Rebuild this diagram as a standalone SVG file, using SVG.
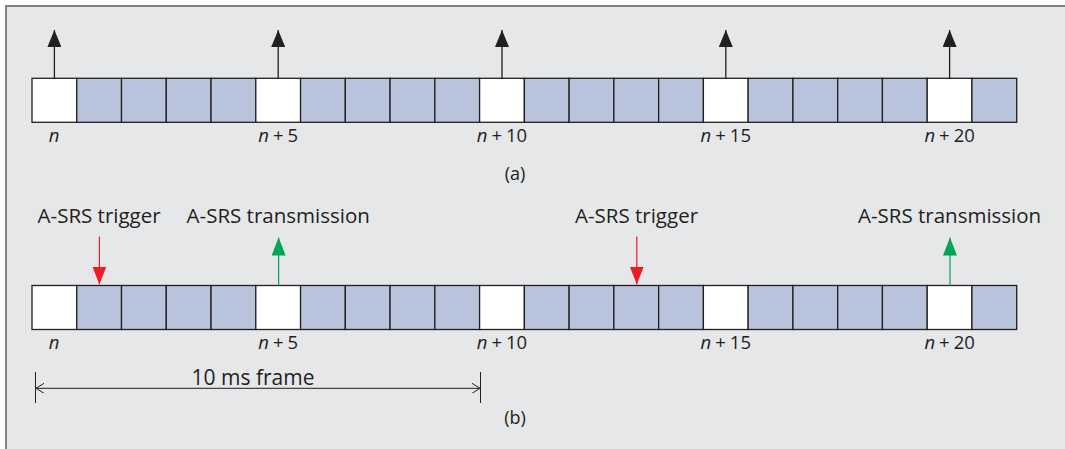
<svg xmlns="http://www.w3.org/2000/svg" width="1065" height="449" viewBox="0 0 1065 449">
  <style>
    .bg { fill: #e6e7e9; stroke: #808285; stroke-width: 2; }
    .sf { fill: #b8c4dc; stroke: #231f20; stroke-width: 1.3; }
    .sw { fill: #ffffff; stroke: #231f20; stroke-width: 1.3; }
    .lbl { font-family: "Open Sans", "Liberation Sans", sans-serif; font-size: 18px; fill: #231f20; text-anchor: middle; }
    .num { font-family: "Open Sans", "Liberation Sans", sans-serif; font-size: 18.5px; fill: #231f20; text-anchor: middle; }
    .cap { font-family: "Open Sans", "Liberation Sans", sans-serif; font-size: 20.5px; fill: #231f20; text-anchor: middle; }
    .it { font-style: italic; }
    .blk { stroke: #231f20; stroke-width: 1.3; fill: none; }
    .red { stroke: #ed1c24; stroke-width: 1.2; fill: none; }
    .grn { stroke: #00a651; stroke-width: 1.2; fill: none; }
    .dim { stroke: #231f20; stroke-width: 1; fill: none; }
  </style>
  <defs>
    <!-- solid heads drawn along +x so orient="auto" follows the line -->
    <marker id="hBlk" viewBox="0 0 17 14" refX="17" refY="7" markerWidth="17" markerHeight="14" markerUnits="userSpaceOnUse" orient="auto">
      <path d="M0,0 L17,7 L0,14 Z" fill="#231f20"/>
    </marker>
    <marker id="hRed" viewBox="0 0 18 14" refX="18" refY="7" markerWidth="18" markerHeight="14" markerUnits="userSpaceOnUse" orient="auto">
      <path d="M0,0 L18,7 L0,14 Z" fill="#ed1c24"/>
    </marker>
    <marker id="hGrn" viewBox="0 0 18 14" refX="18" refY="7" markerWidth="18" markerHeight="14" markerUnits="userSpaceOnUse" orient="auto">
      <path d="M0,0 L18,7 L0,14 Z" fill="#00a651"/>
    </marker>
    <marker id="hOpen" viewBox="0 0 8 10" refX="8" refY="5" markerWidth="8" markerHeight="10" markerUnits="userSpaceOnUse" orient="auto-start-reverse">
      <path d="M0,0 L8,5 L0,10" fill="none" stroke="#231f20" stroke-width="1"/>
    </marker>
  </defs>

  <!-- panel background -->
  <rect class="bg" x="6" y="6" width="1070" height="450"/>

  <!-- (a) periodic subframes -->
  <g id="row-a">
    <rect class="sw" x="32" y="78.3" width="44.76" height="44"/>
    <rect class="sf" x="76.76" y="78.3" width="44.76" height="44"/>
    <rect class="sf" x="121.52" y="78.3" width="44.76" height="44"/>
    <rect class="sf" x="166.28" y="78.3" width="44.76" height="44"/>
    <rect class="sf" x="211.04" y="78.3" width="44.76" height="44"/>
    <rect class="sw" x="255.8" y="78.3" width="44.76" height="44"/>
    <rect class="sf" x="300.56" y="78.3" width="44.76" height="44"/>
    <rect class="sf" x="345.32" y="78.3" width="44.76" height="44"/>
    <rect class="sf" x="390.08" y="78.3" width="44.76" height="44"/>
    <rect class="sf" x="434.84" y="78.3" width="44.76" height="44"/>
    <rect class="sw" x="479.6" y="78.3" width="44.76" height="44"/>
    <rect class="sf" x="524.36" y="78.3" width="44.76" height="44"/>
    <rect class="sf" x="569.12" y="78.3" width="44.76" height="44"/>
    <rect class="sf" x="613.88" y="78.3" width="44.76" height="44"/>
    <rect class="sf" x="658.64" y="78.3" width="44.76" height="44"/>
    <rect class="sw" x="703.4" y="78.3" width="44.76" height="44"/>
    <rect class="sf" x="748.16" y="78.3" width="44.76" height="44"/>
    <rect class="sf" x="792.92" y="78.3" width="44.76" height="44"/>
    <rect class="sf" x="837.68" y="78.3" width="44.76" height="44"/>
    <rect class="sf" x="882.44" y="78.3" width="44.76" height="44"/>
    <rect class="sw" x="927.2" y="78.3" width="44.76" height="44"/>
    <rect class="sf" x="971.96" y="78.3" width="44.76" height="44"/>
  </g>
  <g id="labels-a">
    <text class="num" x="54" y="142"><tspan class="it">n</tspan></text>
    <text class="num" x="278.2" y="142"><tspan class="it">n</tspan><tspan dx="4">+</tspan><tspan dx="4">5</tspan></text>
    <text class="num" x="502" y="142"><tspan class="it">n</tspan><tspan dx="4">+</tspan><tspan dx="4">10</tspan></text>
    <text class="num" x="725.8" y="142"><tspan class="it">n</tspan><tspan dx="4">+</tspan><tspan dx="4">15</tspan></text>
    <text class="num" x="949.6" y="142"><tspan class="it">n</tspan><tspan dx="4">+</tspan><tspan dx="4">20</tspan></text>
    <text class="lbl" x="515" y="180">(a)</text>
  </g>

  <!-- (b) aperiodic trigger and transmission -->
  <g id="row-b">
    <rect class="sw" x="32" y="285.5" width="44.76" height="44"/>
    <rect class="sf" x="76.76" y="285.5" width="44.76" height="44"/>
    <rect class="sf" x="121.52" y="285.5" width="44.76" height="44"/>
    <rect class="sf" x="166.28" y="285.5" width="44.76" height="44"/>
    <rect class="sf" x="211.04" y="285.5" width="44.76" height="44"/>
    <rect class="sw" x="255.8" y="285.5" width="44.76" height="44"/>
    <rect class="sf" x="300.56" y="285.5" width="44.76" height="44"/>
    <rect class="sf" x="345.32" y="285.5" width="44.76" height="44"/>
    <rect class="sf" x="390.08" y="285.5" width="44.76" height="44"/>
    <rect class="sf" x="434.84" y="285.5" width="44.76" height="44"/>
    <rect class="sw" x="479.6" y="285.5" width="44.76" height="44"/>
    <rect class="sf" x="524.36" y="285.5" width="44.76" height="44"/>
    <rect class="sf" x="569.12" y="285.5" width="44.76" height="44"/>
    <rect class="sf" x="613.88" y="285.5" width="44.76" height="44"/>
    <rect class="sf" x="658.64" y="285.5" width="44.76" height="44"/>
    <rect class="sw" x="703.4" y="285.5" width="44.76" height="44"/>
    <rect class="sf" x="748.16" y="285.5" width="44.76" height="44"/>
    <rect class="sf" x="792.92" y="285.5" width="44.76" height="44"/>
    <rect class="sf" x="837.68" y="285.5" width="44.76" height="44"/>
    <rect class="sf" x="882.44" y="285.5" width="44.76" height="44"/>
    <rect class="sw" x="927.2" y="285.5" width="44.76" height="44"/>
    <rect class="sf" x="971.96" y="285.5" width="44.76" height="44"/>
  </g>
  <g id="labels-b">
    <text class="num" x="54" y="348.5"><tspan class="it">n</tspan></text>
    <text class="num" x="278.2" y="348.5"><tspan class="it">n</tspan><tspan dx="4">+</tspan><tspan dx="4">5</tspan></text>
    <text class="num" x="502" y="348.5"><tspan class="it">n</tspan><tspan dx="4">+</tspan><tspan dx="4">10</tspan></text>
    <text class="num" x="725.8" y="348.5"><tspan class="it">n</tspan><tspan dx="4">+</tspan><tspan dx="4">15</tspan></text>
    <text class="num" x="949.6" y="348.5"><tspan class="it">n</tspan><tspan dx="4">+</tspan><tspan dx="4">20</tspan></text>
    <text class="cap" x="99.1" y="223">A-SRS trigger</text>
    <text class="cap" x="278.2" y="223">A-SRS transmission</text>
    <text class="cap" x="636.5" y="223">A-SRS trigger</text>
    <text class="cap" x="949.6" y="223">A-SRS transmission</text>
    <text class="cap" x="253" y="385" style="font-size:21px">10 ms frame</text>
    <text class="lbl" x="515" y="424">(b)</text>
  </g>

  <!-- arrows and dimension line -->
  <g id="connectors">
    <line class="blk" x1="54.4" y1="78.3" x2="54.4" y2="30" marker-end="url(#hBlk)"/>
    <line class="blk" x1="278.2" y1="78.3" x2="278.2" y2="30" marker-end="url(#hBlk)"/>
    <line class="blk" x1="502" y1="78.3" x2="502" y2="30" marker-end="url(#hBlk)"/>
    <line class="blk" x1="725.8" y1="78.3" x2="725.8" y2="30" marker-end="url(#hBlk)"/>
    <line class="blk" x1="949.6" y1="78.3" x2="949.6" y2="30" marker-end="url(#hBlk)"/>

    <line class="red" x1="99.4" y1="236.5" x2="99.4" y2="284.5" marker-end="url(#hRed)"/>
    <line class="red" x1="636.8" y1="236.5" x2="636.8" y2="284.5" marker-end="url(#hRed)"/>
    <line class="grn" x1="278.6" y1="285.5" x2="278.6" y2="237.5" marker-end="url(#hGrn)"/>
    <line class="grn" x1="950" y1="285.5" x2="950" y2="237.5" marker-end="url(#hGrn)"/>

    <line class="dim" x1="35.5" y1="372" x2="35.5" y2="403"/>
    <line class="dim" x1="480.5" y1="372" x2="480.5" y2="403"/>
    <line class="dim" x1="36" y1="388.3" x2="480" y2="388.3" marker-start="url(#hOpen)" marker-end="url(#hOpen)"/>
  </g>
</svg>
